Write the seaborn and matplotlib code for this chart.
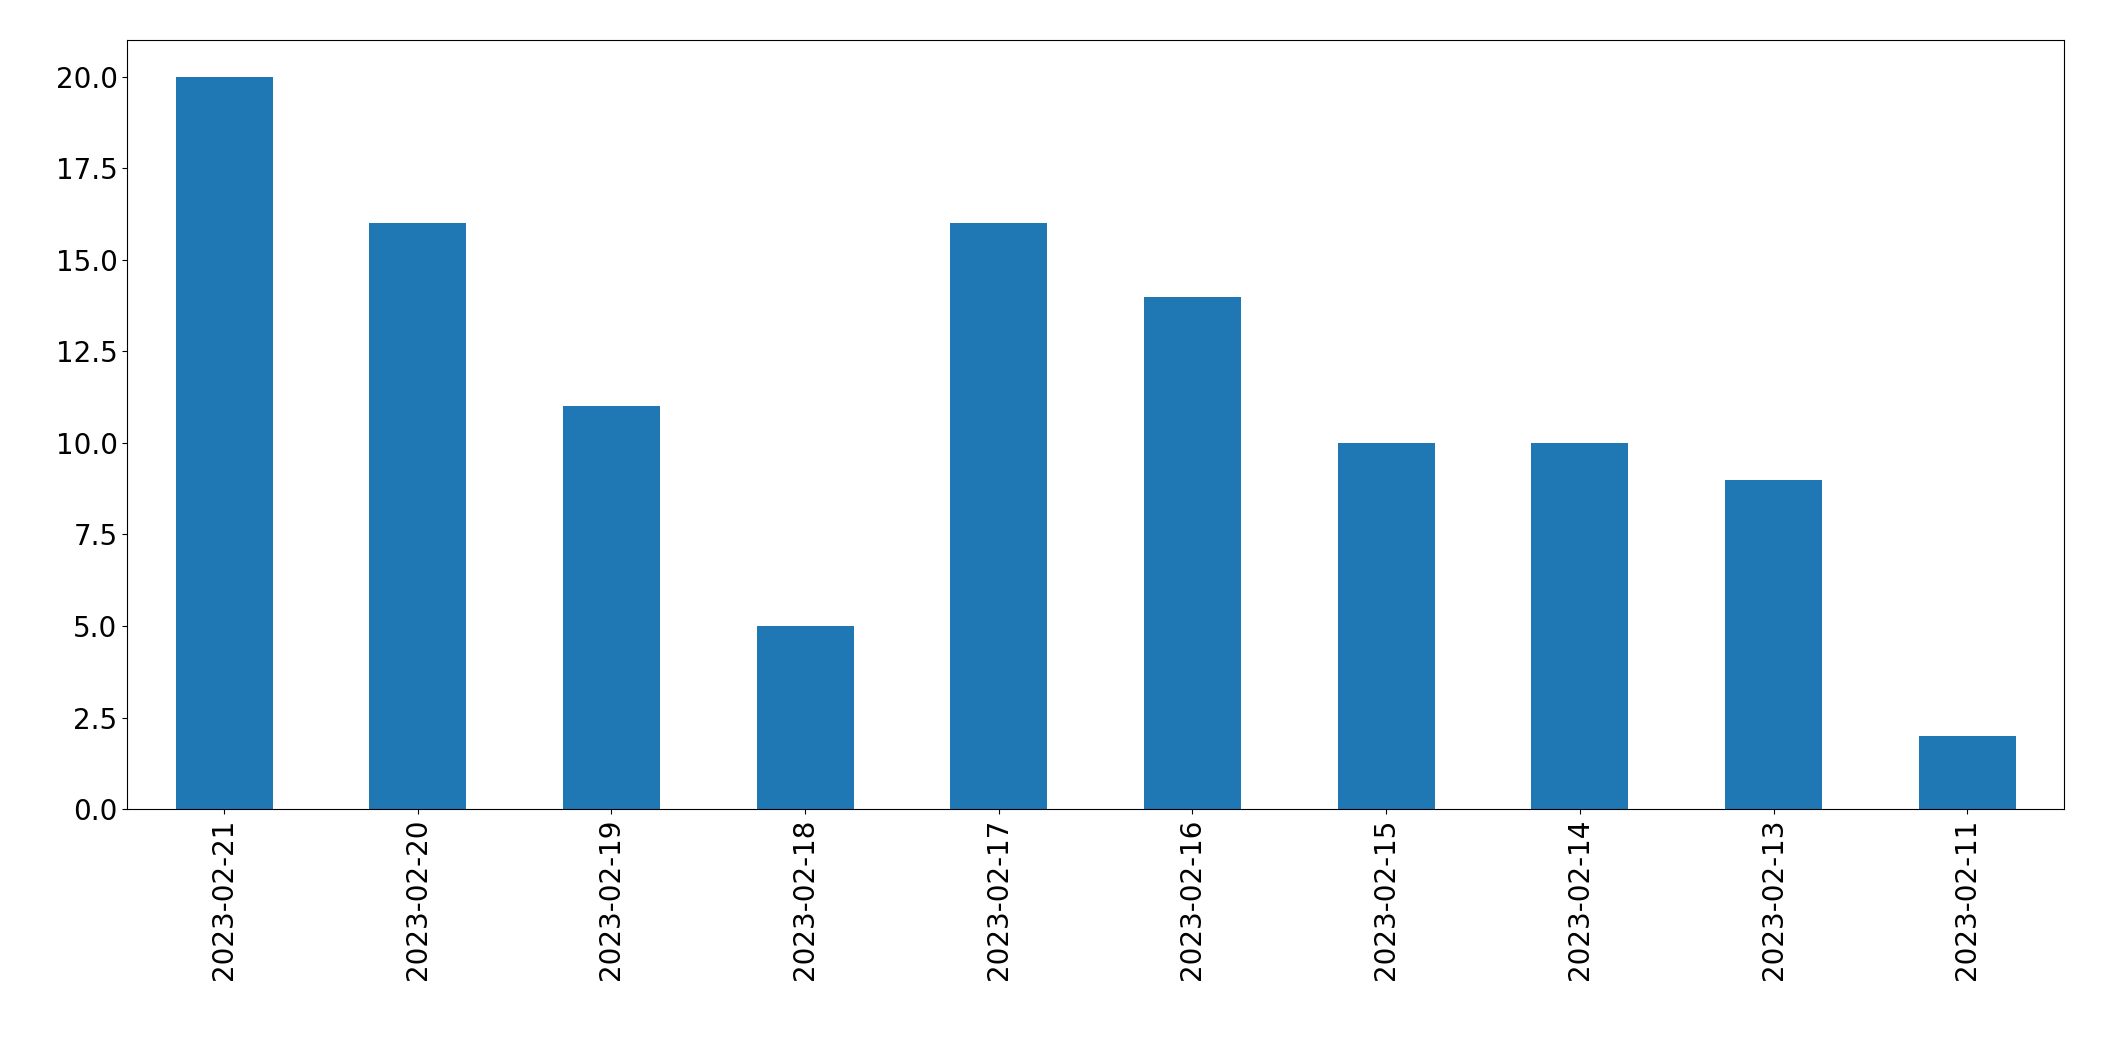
import matplotlib
matplotlib.use('Agg')
import matplotlib.pyplot as plt
import seaborn as sns

dates = ['2023-02-21', '2023-02-20', '2023-02-19', '2023-02-18', '2023-02-17',
         '2023-02-16', '2023-02-15', '2023-02-14', '2023-02-13', '2023-02-11']
counts = [20, 16, 11, 5, 16, 14, 10, 10, 9, 2]

fig, ax = plt.subplots(figsize=(21.04, 10.61), dpi=100)
sns.barplot(x=dates, y=counts, ax=ax, color='#1f77b4', saturation=1, width=0.5)
ax.set_xlim(-0.5, len(dates) - 0.5)
ax.tick_params(axis='both', labelsize=20)
ax.tick_params(axis='x', labelrotation=90)
fig.subplots_adjust(left=0.0605, right=0.981, top=0.962, bottom=0.2375)

plt.savefig('out.png')
